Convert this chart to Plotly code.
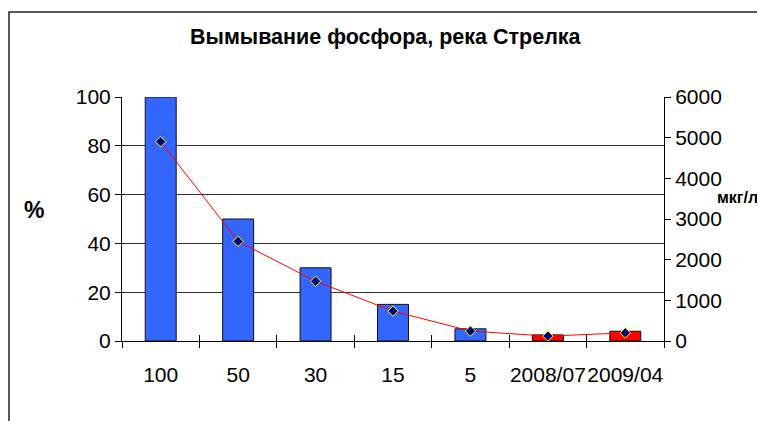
import plotly.graph_objects as go

# ---- data ----
categories = ["100", "50", "30", "15", "5", "2008/07", "2009/04"]
percent_values = [100, 50, 30, 15, 5, 2.5, 4]
conc_values = [4900, 2450, 1470, 735, 245, 120, 200]
bar_colors = ["#3366FF"] * 5 + ["#FF0000"] * 2

title_text = "Вымывание фосфора, река Стрелка"
left_label = "%"
right_label = "мкг/л"

# page has an 8px body margin; work in page pixels and shift
OFF = 8
PAGE_W, PAGE_H = 765, 421
W, H = PAGE_W - OFF, PAGE_H - OFF
L, R, T, B = 122 - OFF, 664 - OFF, 97 - OFF, 341 - OFF  # plot area in figure px


def px(x):
    return (x - OFF - L) / (R - L)


def py(y):
    return (B - (y - OFF)) / (B - T)


FONT = "Liberation Sans, Arial, sans-serif"
TICKFONT = 21

fig = go.Figure()
fig.add_trace(go.Bar(
    x=categories, y=percent_values, yaxis="y",
    marker=dict(color=bar_colors, line=dict(color="#111111", width=1)),
    showlegend=False, hoverinfo="skip",
))
fig.add_trace(go.Scatter(
    x=categories, y=conc_values, yaxis="y2", mode="lines+markers",
    line=dict(color="#FF0000", width=1),
    marker=dict(symbol="diamond", size=8, color="#000080",
                line=dict(color="#FFFF00", width=1)),
    showlegend=False, hoverinfo="skip",
))
# invisible trace carrying overlay axes that draw the inner half of crossing ticks
fig.add_trace(go.Scatter(
    x=categories, y=percent_values, xaxis="x2", yaxis="y3", mode="markers",
    marker=dict(opacity=0), showlegend=False, hoverinfo="skip",
))

fig.update_layout(
    width=W, height=H,
    margin=dict(l=L, r=W - R, t=T, b=H - B, pad=0, autoexpand=False),
    paper_bgcolor="white", plot_bgcolor="white",
    font=dict(family=FONT, color="black", size=TICKFONT),
    bargap=0.6,
    xaxis=dict(
        type="category", showgrid=False, showline=True, linecolor="black",
        linewidth=1, ticks="outside", ticklen=6, tickcolor="black",
        tickson="boundaries", tickfont=dict(size=TICKFONT), ticklabelstandoff=15,
        tickangle=0, automargin=False, zeroline=False,
    ),
    xaxis2=dict(
        type="category", overlaying="x", matches="x", showgrid=False,
        showline=False, ticks="inside", ticklen=6, tickcolor="black",
        tickson="boundaries", showticklabels=False, automargin=False,
        zeroline=False,
    ),
    yaxis=dict(
        range=[0, 100], dtick=20, showgrid=True, gridcolor="#333333",
        gridwidth=1, showline=True, linecolor="black", linewidth=1,
        ticks="outside", ticklen=6, tickcolor="black", zeroline=False,
        tickfont=dict(size=TICKFONT), automargin=False,
    ),
    yaxis3=dict(
        range=[0, 100], dtick=20, overlaying="y", showgrid=False,
        showline=False, ticks="inside", ticklen=3, tickcolor="black",
        showticklabels=False, zeroline=False, automargin=False,
    ),
    yaxis2=dict(
        range=[0, 6000], dtick=1000, overlaying="y", side="right",
        showgrid=False, showline=True, linecolor="black", linewidth=1,
        ticks="outside", ticklen=6, tickcolor="black", zeroline=False,
        tickfont=dict(size=TICKFONT), automargin=False,
    ),
    shapes=[
        dict(type="path", xref="paper", yref="paper",
             path=f"M {px(9)},{py(430)} L {px(9)},{py(12)} L {px(780)},{py(12)}",
             line=dict(color="#222222", width=1.5)),
    ],
    annotations=[
        dict(text=f"<b>{title_text}</b>", xref="paper", yref="paper",
             x=px(386), y=py(37), xanchor="center", yanchor="middle",
             showarrow=False, font=dict(size=21.5, family=FONT)),
        dict(text=f"<b>{left_label}</b>", xref="paper", yref="paper",
             x=px(34), y=py(210), xanchor="center", yanchor="middle",
             showarrow=False, font=dict(size=23, family=FONT)),
        dict(text=f"<b>{right_label}</b>", xref="paper", yref="paper",
             x=px(737.5), y=py(197), xanchor="center", yanchor="middle",
             showarrow=False, font=dict(size=16, family=FONT)),
    ],
)

fig.write_html("out.html")
